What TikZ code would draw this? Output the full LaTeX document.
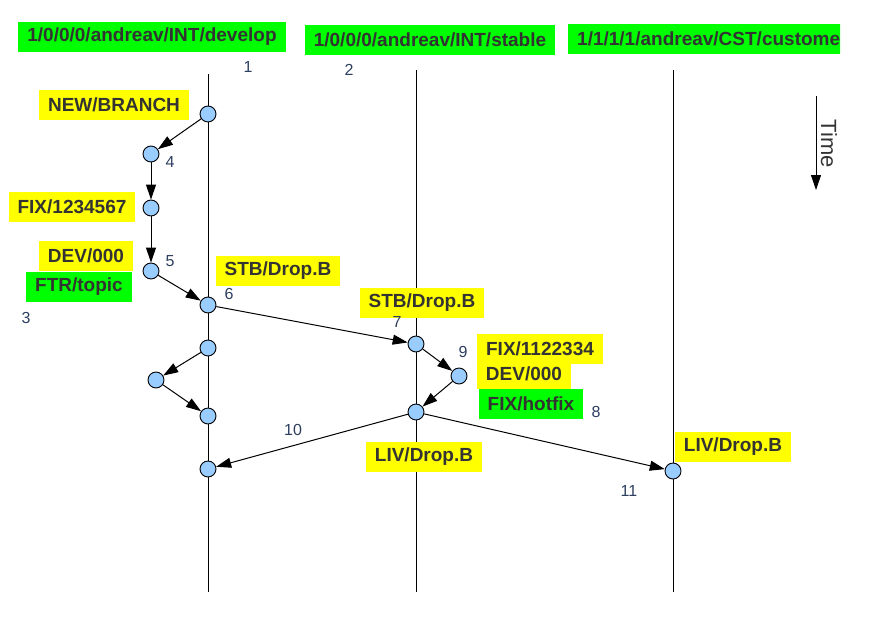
\documentclass[tikz,border=0pt]{standalone}
\usepackage{fontspec}
\setmainfont{Liberation Sans}
\usetikzlibrary{arrows.meta}
\definecolor{jaune}{RGB}{255,255,0}
\definecolor{vert}{RGB}{0,255,0}
\definecolor{bleuclair}{RGB}{153,204,255}
\definecolor{gristexte}{RGB}{51,51,51}
\definecolor{bleunum}{RGB}{45,62,95}
\tikzset{
	commit/.style={circle,draw=black,fill=bleuclair,line width=0.9pt,minimum size=16pt,inner sep=0pt},
	etiq/.style={inner xsep=9pt,inner ysep=0pt,minimum height=30pt,text=gristexte,font=\fontsize{19}{22}\selectfont\bfseries},
	etiqjaune/.style={etiq,fill=jaune},
	etiqvert/.style={etiq,fill=vert},
	numero/.style={text=bleunum,font=\fontsize{16}{18}\selectfont,inner sep=0pt},
	branche/.style={line width=1pt},
}
\begin{document}
\begin{tikzpicture}[x=1pt,y=-1pt,>={Triangle[length=15pt,width=10pt]}]
	\useasboundingbox (0,0) rectangle (877,629);
	
	% Noms des branches
	\node[etiqvert] (hdev) at (152,37) {1/0/0/0/andreav/INT/develop};
	\node[etiqvert] (hstb) at (430,40) {1/0/0/0/andreav/INT/stable};
	\begin{scope}
		\clip (568,20) rectangle (840,60);
		\node[etiqvert,anchor=west] (hcst) at (568,38.5) {1/1/1/1/andreav/CST/customer};
	\end{scope}
	
	% Lignes de vie
	\coordinate (devH) at (208,74);  \coordinate (devB) at (208,592);
	\coordinate (stbH) at (416,70);  \coordinate (stbB) at (416,592);
	\coordinate (cstH) at (673,70);  \coordinate (cstB) at (673,592);
	\draw[branche] (devH) -- (devB);
	\draw[branche] (stbH) -- (stbB);
	\draw[branche] (cstH) -- (cstB);
	
	% Axe du temps
	\coordinate (tH) at (816,96);
	\coordinate (tB) at (816,190);
	\draw[->,line width=1pt] (tH) -- (tB);
	\node[rotate=-90,text=gristexte,font=\fontsize{22}{24}\selectfont] (temps) at (829,144) {Time};
	
	% Commits
	\node[commit] (d1) at (208,114) {};
	\node[commit] (f1) at (151,154) {};
	\node[commit] (f2) at (151,208) {};
	\node[commit] (f3) at (151,271) {};
	\node[commit] (d2) at (208,305) {};
	\node[commit] (d3) at (208,348) {};
	\node[commit] (g1) at (156,380) {};
	\node[commit] (d4) at (208,416) {};
	\node[commit] (d5) at (208,469) {};
	\node[commit] (s1) at (416,344) {};
	\node[commit] (s2) at (459,376) {};
	\node[commit] (s3) at (416,412) {};
	\node[commit] (c1) at (673,471) {};
	
	% Fleches entre commits
	\draw[->,line width=1pt] (d1) -- (f1);
	\draw[->,line width=1pt] (f1) -- (f2);
	\draw[->,line width=1pt] (f2) -- (f3);
	\draw[->,line width=1pt] (f3) -- (d2);
	\draw[->,line width=1pt] (d2) -- (s1);
	\draw[->,line width=1pt] (s1) -- (s2);
	\draw[->,line width=1pt] (s2) -- (s3);
	\draw[->,line width=1pt] (s3) -- (d5);
	\draw[->,line width=1pt] (s3) -- (c1);
	\draw[->,line width=1pt] (d3) -- (g1);
	\draw[->,line width=1pt] (g1) -- (d4);
	
	% Etiquettes
	\node[etiqjaune] (newbr) at (114,105) {NEW/BRANCH};
	\node[etiqjaune] (fix1) at (72,207) {FIX/1234567};
	\node[etiqjaune] (dev1) at (86,256) {DEV/000};
	\node[etiqvert] (ftr) at (79,287) {FTR/topic};
	\node[etiqjaune] (stb1) at (278,271) {STB/Drop.B};
	\node[etiqjaune] (stb2) at (422,303) {STB/Drop.B};
	\node[etiqjaune] (fix2) at (540,349) {FIX/1122334};
	\node[etiqjaune] (dev2) at (524,374) {DEV/000};
	\node[etiqvert] (hotfix) at (531,404) {FIX/hotfix};
	\node[etiqjaune] (liv1) at (424,457) {LIV/Drop.B};
	\node[etiqjaune] (liv2) at (733,447) {LIV/Drop.B};
	
	% Numeros
	\foreach \n/\x/\y in {1/248/67, 2/349/70, 3/26/318, 4/170/162, 5/170/261, 6/229/294,
		7/397/322, 8/596/412, 9/463/352, 10/293/430, 11/629/491}
	{
		\node[numero] (n\n) at (\x,\y) {\n};
	}
\end{tikzpicture}
\end{document}
